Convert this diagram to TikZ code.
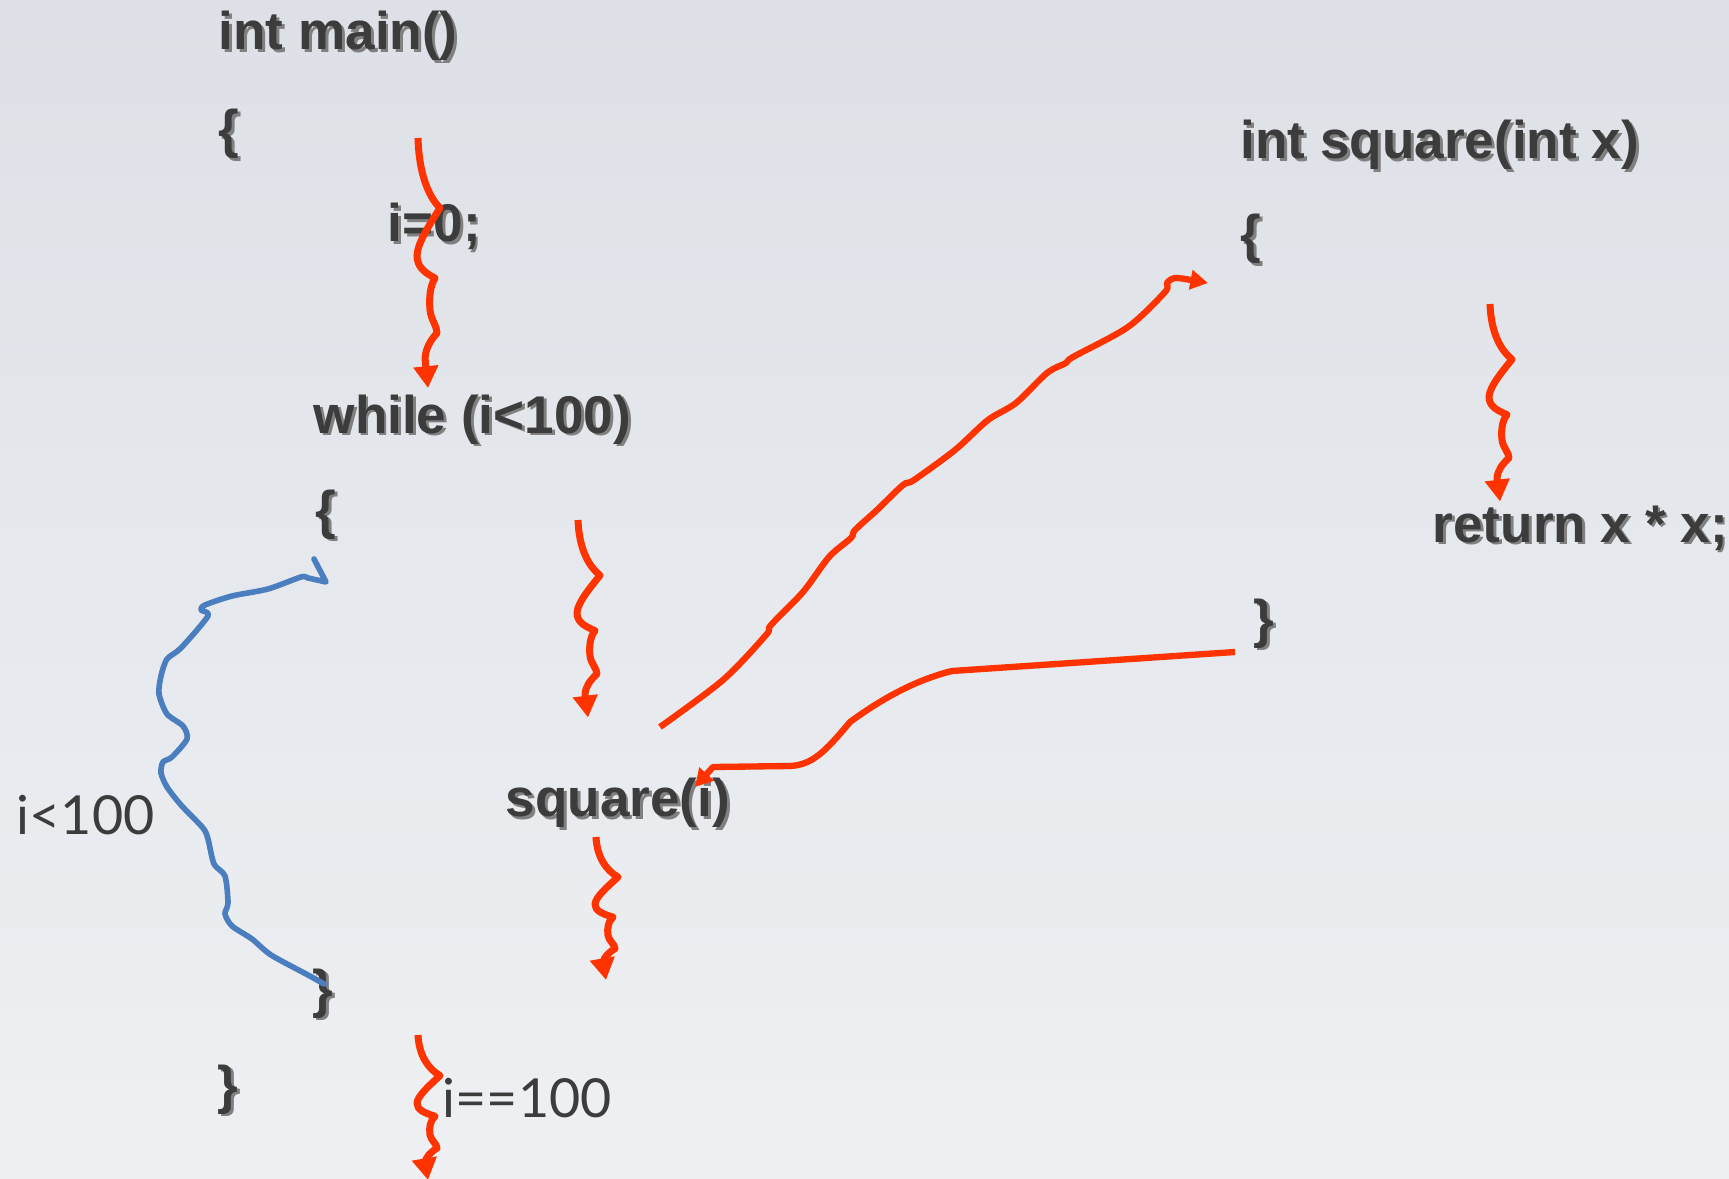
\documentclass[tikz,border=0pt]{standalone}
\usepackage{fontspec}
\setmainfont{Liberation Sans}
\newfontfamily\labelfont{Lato}
\usetikzlibrary{arrows.meta}

\definecolor{codegray}{RGB}{60,60,60}
\definecolor{flowred}{RGB}{255,51,0}
\definecolor{loopblue}{RGB}{74,126,191}
\definecolor{bgtop}{RGB}{221,225,231}
\definecolor{bgbottom}{RGB}{238,240,243}

\newcommand{\shadowed}[1]{\makebox[0pt][l]{\hspace{0.8pt}\raisebox{-0.8pt}{\textcolor{black!50}{#1}}}#1}

\tikzset{
  codeline/.style={font=\fontsize{15.1}{18}\selectfont\bfseries, text=codegray, inner sep=0pt, anchor=base west},
  condlabel/.style={font=\labelfont\fontsize{15.3}{18}\selectfont, text=codegray, inner sep=0pt, anchor=base west},
  flow/.style={draw=flowred, line width=2pt, line join=round, -{Triangle[length=6.2pt,width=6.8pt]}},
  longflow/.style={draw=flowred, line width=1.8pt, line join=round, -{Triangle[length=5pt,width=5.4pt]}},
  loopline/.style={draw=loopblue, line width=1.6pt, line join=round, line cap=round},
  pics/wiggle/.style={code={
    \draw[flow] (0,0) .. controls (1,35) and (10,58) .. (22,70)
      .. controls (12,86) and (0,104) .. (-1,117)
      .. controls (-1,128) and (5,134) .. (17,140)
      .. controls (12,148) and (11,160) .. (12,172)
      .. controls (13,182) and (19,188) .. (19,195)
      .. controls (12,203) and (8,210) .. (7,220)
      -- (10,250);
  }}
}

\begin{document}
\begin{tikzpicture}[x=0.01cm, y=-0.01cm]
  \shade[top color=bgtop, bottom color=bgbottom] (0,0) rectangle (1729,1179);
  \useasboundingbox (0,0) rectangle (1729,1179);

  % main()
  \node[codeline] (mainhead) at (218,50) {\shadowed{int main()}};
  \node[codeline] (mainopen) at (218,148) {\shadowed{\{}};
  \node[codeline] (init) at (387,242) {\shadowed{i=0;}};
  \node[codeline] (whilehead) at (313,433) {\shadowed{while (i<100)}};
  \node[codeline] (whileopen) at (315,528) {\shadowed{\{}};
  \node[codeline] (call) at (505,817) {\shadowed{square(i)}};
  \node[codeline] (whileclose) at (312,1007) {\shadowed{\}}};
  \node[codeline] (mainclose) at (217,1103) {\shadowed{\}}};

  % square()
  \node[codeline] (sqhead) at (1240,159) {\shadowed{int square(int x)}};
  \node[codeline] (sqopen) at (1240,253) {\shadowed{\{}};
  \node[codeline] (sqreturn) at (1432,542) {\shadowed{return x * x;}};
  \node[codeline] (sqclose) at (1253,637) {\shadowed{\}}};

  % conditions
  \node[condlabel] (looplabel) at (16,834) {i<100};
  \node[condlabel] (exitlabel) at (442,1117) {i==100};

  % step arrows
  \coordinate (w1) at (418,138);
  \coordinate (w2) at (578,520);
  \coordinate (w3) at (596,837);
  \coordinate (w4) at (1490,304);
  \coordinate (w5) at (418,1035);
  \pic at (w1) {wiggle};
  \pic[yscale=0.79] at (w2) {wiggle};
  \pic[yscale=0.572] at (w3) {wiggle};
  \pic[yscale=0.79] at (w4) {wiggle};
  \pic[yscale=0.58] at (w5) {wiggle};

  % loop back
  \coordinate (loopstart) at (324,984);
  \coordinate (looptip) at (326,582);
  \draw[loopline] plot[smooth, tension=0.45] coordinates {(loopstart) (308,975) (271,955) (252,939)
    (232,926) (225,914) (228,903) (225,876) (214,864) (208,839) (203,828) (181,805) (167,787)
    (161,773) (163,762) (172,757) (187,739) (183,726) (167,714) (159,694) (161,676) (167,659)
    (181,648) (208,616) (201,610) (205,605) (232,596) (268,589) (301,577) (308,578) (looptip)}
    -- (314,559);

  % call and return
  \coordinate (callstart) at (660,727);
  \coordinate (callend) at (1208,283);
  \draw[longflow] plot[smooth, tension=0.5] coordinates {(callstart) (723,680) (766,635) (771,625)
    (803,592) (829,557) (851,538) (855,530) (877,510) (903,485) (914,480) (955,450) (988,420)
    (1016,403) (1047,373) (1066,363) (1073,357) (1128,327) (1165,292) (1167,283) (1175,278)
    (1191,280) (callend)};
  \coordinate (retstart) at (1235,652);
  \coordinate (retend) at (695,787);
  \draw[longflow] (retstart) -- (952,671) .. controls (915,680) and (880,700) .. (850,722)
    .. controls (825,752) and (812,765) .. (790,766) -- (713,767) -- (retend);
\end{tikzpicture}
\end{document}
